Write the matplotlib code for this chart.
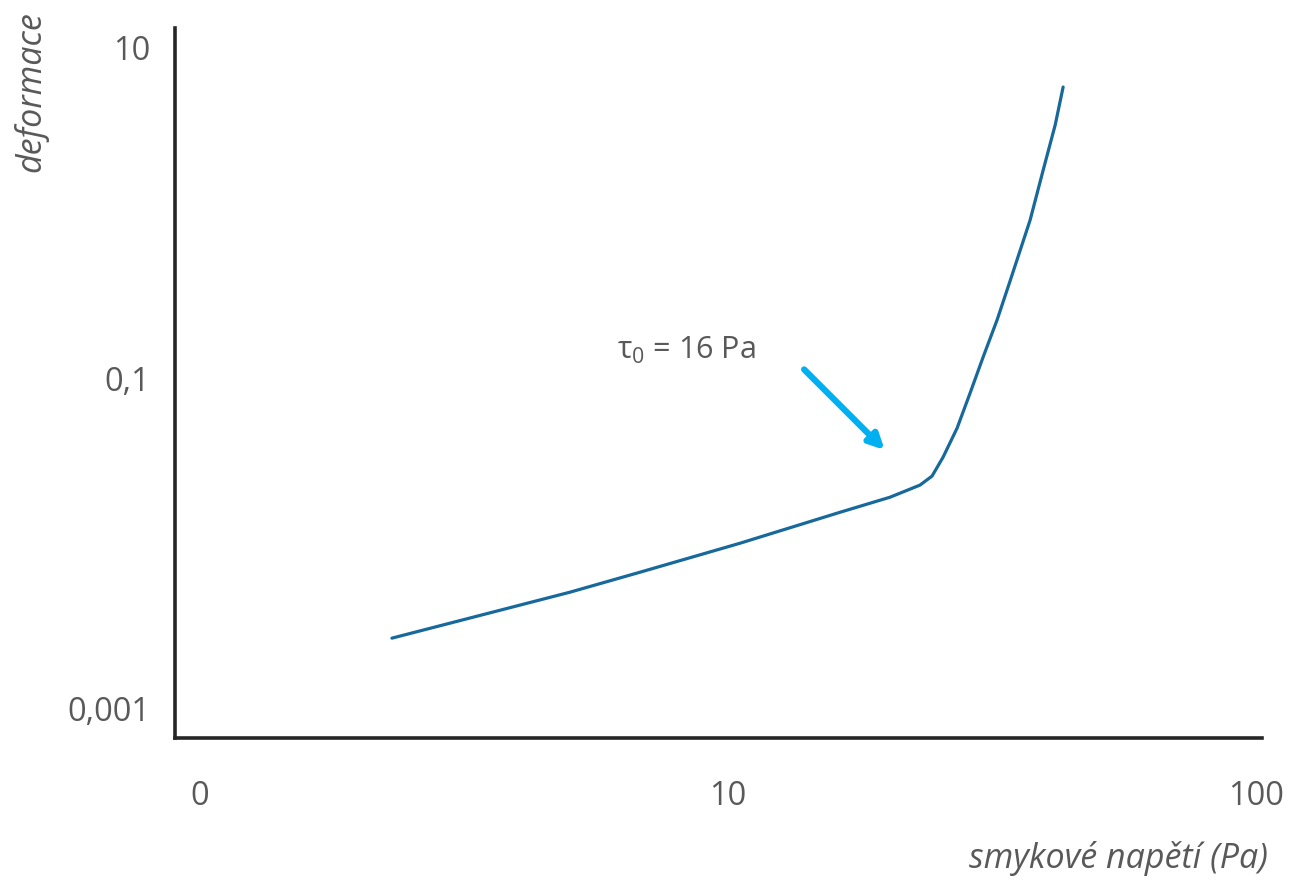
import numpy as np
import matplotlib.pyplot as plt

plt.rcParams['font.family'] = ['Open Sans', 'DejaVu Sans']
plt.rcParams['mathtext.fontset'] = 'custom'
plt.rcParams['mathtext.rm'] = 'Open Sans'
plt.rcParams['mathtext.it'] = 'Open Sans:italic'

# shear stress (Pa) vs. deformation, log-log
stress = [2.31, 5.02, 6.81, 10.54, 16.3, 20.27, 23.1, 24.34, 25.54, 27.15,
          28.73, 30.41, 32.32, 34.2, 36.22, 37.33, 39.52, 41.64, 43.11]
strain = [0.00266, 0.00505, 0.00667, 0.0100, 0.0154, 0.0190, 0.0225, 0.0255,
          0.0332, 0.0498, 0.0811, 0.134, 0.225, 0.387, 0.676, 0.907, 1.822,
          3.415, 5.80]

x_ticks = [1, 10, 100]
x_labels = ['0', '10', '100']
y_ticks = [0.001, 0.1, 10]
y_labels = ['0,001', '0,1', '10']

yield_x, yield_y = 19.8, 0.0367
yield_label = r'τ$_0$ = 16 Pa'

W, H = 1291, 881
fig = plt.figure(figsize=(W / 100, H / 100), dpi=100)
ax = fig.add_axes([175 / W, 1 - 738 / H, (1262 - 175) / W, (738 - 28) / H])

ax.plot(stress, strain, color='#17699c', lw=2.3, solid_capstyle='round',
        solid_joinstyle='round')
ax.set_xscale('log')
ax.set_yscale('log')
ax.set_xlim(0.897, 102.6)
ax.set_ylim(10 ** -3.18, 10 ** 1.121)

ax.set_xticks(x_ticks)
ax.set_xticklabels(x_labels)
ax.set_yticks(y_ticks)
ax.set_yticklabels(y_labels)
ax.minorticks_off()
ax.tick_params(length=0, labelsize=23.5, labelcolor='#595959')
ax.tick_params(axis='x', pad=30)
ax.tick_params(axis='y', pad=18)

for side in ['top', 'right']:
    ax.spines[side].set_visible(False)
for side in ['left', 'bottom']:
    ax.spines[side].set_color('#262626')
    ax.spines[side].set_linewidth(2.6)

ax.annotate('', xy=(yield_x, yield_y), xytext=(-58, 58), textcoords='offset points',
            arrowprops=dict(arrowstyle='-|>,head_length=0.9,head_width=0.45',
                            color='#00b0f0', lw=4.5, shrinkA=0, shrinkB=0))
fig.text(617 / W, 1 - 359 / H, yield_label, fontsize=22, color='#595959',
         ha='left', va='baseline')

fig.text(31 / W, 1 - 92 / H, 'deformace', rotation=90, style='italic',
         fontsize=24.5, color='#595959', ha='center', va='center')
fig.text(1268 / W, 1 - 858 / H, 'smykové napětí (Pa)', style='italic',
         fontsize=24.5, color='#595959', ha='right', va='center')

fig.savefig('out.png', dpi=100)
